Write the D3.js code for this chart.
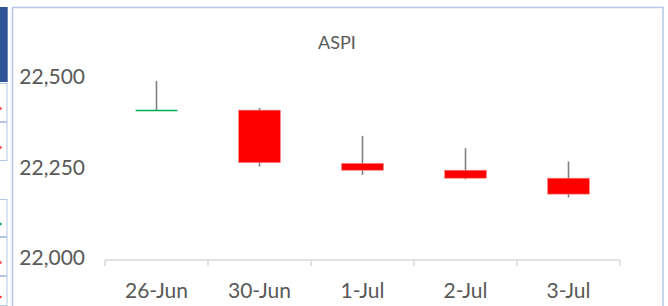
<!DOCTYPE html>
<html>
<head>
<meta charset="utf-8">
<script src="https://cdn.jsdelivr.net/npm/d3@7"></script>
<style>
  html, body { margin: 0; padding: 0; background: #fff; }
  svg { display: block; }
</style>
</head>
<body>
<svg id="chart" width="668" height="306"></svg>
<script>
const dates  = ["26-Jun", "30-Jun", "1-Jul", "2-Jul", "3-Jul"];
const open   = [22413, 22414, 22267, 22248, 22226];
const high   = [22495, 22420, 22343, 22309, 22272];
const low    = [22412, 22258, 22235, 22223, 22173];
const close  = [22413, 22269, 22248, 22226, 22182];
const yTicks = [22000, 22250, 22500];
const title  = "ASPI";

const svg = d3.select("#chart");
const font = "Lato, 'Open Sans', sans-serif";
const textColor = "#595959";

// surrounding screenshot decoration (left strip of neighbouring sheet)
svg.append("rect").attr("x", 0).attr("y", 7).attr("width", 7.7).attr("height", 75).attr("fill", "#2f5597");
const cells = [[83, 122, "#ff3b3b"], [122, 161, "#ff3b3b"], [199, 237, "#00b050"], [237, 276, "#ff3b3b"], [276, 306, "#ff3b3b"]];
cells.forEach(([y0, y1, c]) => {
  svg.append("rect").attr("x", -2).attr("y", y0 + 0.5).attr("width", 9).attr("height", y1 - y0 - 1)
    .attr("fill", "#fff").attr("stroke", "#b4c7e7").attr("stroke-width", 1);
  svg.append("circle").attr("cx", 0.5).attr("cy", (y0 + y1) / 2 + 6).attr("r", 1.3).attr("fill", c);
});

// chart frame
svg.append("rect").attr("x", 12.5).attr("y", 7.5).attr("width", 650.5).attr("height", 300)
  .attr("fill", "#fff").attr("stroke", "#b4c7e7").attr("stroke-width", 1.5);

const x = d3.scaleBand().domain(dates).range([105, 620]).padding(0);
const y = d3.scaleLinear().domain([22000, 22500]).range([260, 79]);

// title
svg.append("text").attr("x", 337).attr("y", 44).attr("text-anchor", "middle")
  .attr("dominant-baseline", "middle").attr("font-family", font).attr("font-size", 18)
  .attr("fill", textColor).text(title);

// y tick labels
svg.selectAll(".ylab").data(yTicks).join("text")
  .attr("class", "ylab")
  .attr("x", 85).attr("y", d => y(d))
  .attr("text-anchor", "end").attr("dominant-baseline", "middle")
  .attr("font-family", font).attr("font-size", 21).attr("fill", textColor)
  .text(d => d3.format(",")(d));

// x axis line and boundary ticks
const axisY = y(22000);
svg.append("line").attr("x1", x.range()[0]).attr("x2", x.range()[1])
  .attr("y1", axisY).attr("y2", axisY).attr("stroke", "#d9d9d9").attr("stroke-width", 1.5);
const tickXs = dates.map(d => x(d)).concat([x.range()[1]]);
svg.selectAll(".xtick").data(tickXs).join("line")
  .attr("class", "xtick")
  .attr("x1", d => d).attr("x2", d => d).attr("y1", axisY).attr("y2", axisY + 6)
  .attr("stroke", "#d9d9d9").attr("stroke-width", 1.5);

// x labels
svg.selectAll(".xlab").data(dates).join("text")
  .attr("class", "xlab")
  .attr("x", d => x(d) + x.bandwidth() / 2).attr("y", 293)
  .attr("text-anchor", "middle").attr("dominant-baseline", "middle")
  .attr("font-family", font).attr("font-size", 21).attr("fill", textColor)
  .text(d => d);

// candles
const data = dates.map((d, i) => ({ d, o: open[i], h: high[i], l: low[i], c: close[i] }));
const bw = x.bandwidth() * 0.405;
const g = svg.append("g");
g.selectAll(".wick").data(data).join("line")
  .attr("class", "wick")
  .attr("x1", d => x(d.d) + x.bandwidth() / 2).attr("x2", d => x(d.d) + x.bandwidth() / 2)
  .attr("y1", d => y(d.h)).attr("y2", d => y(d.l))
  .attr("stroke", "#808080").attr("stroke-width", 1.6);
data.forEach(d => {
  const cx = x(d.d) + x.bandwidth() / 2;
  const top = y(Math.max(d.o, d.c)), bot = y(Math.min(d.o, d.c));
  if (bot - top < 1.5) {
    g.append("line").attr("x1", cx - bw / 2).attr("x2", cx + bw / 2)
      .attr("y1", top).attr("y2", top)
      .attr("stroke", d.c >= d.o ? "#00b050" : "#ff0000").attr("stroke-width", 1.6);
  } else {
    g.append("rect").attr("x", cx - bw / 2).attr("y", top).attr("width", bw).attr("height", bot - top)
      .attr("fill", d.c >= d.o ? "#00b050" : "#ff0000")
      .attr("stroke", d.c >= d.o ? "#66d096" : "#ff8080").attr("stroke-width", 0.6);
  }
});
</script>
</body>
</html>
